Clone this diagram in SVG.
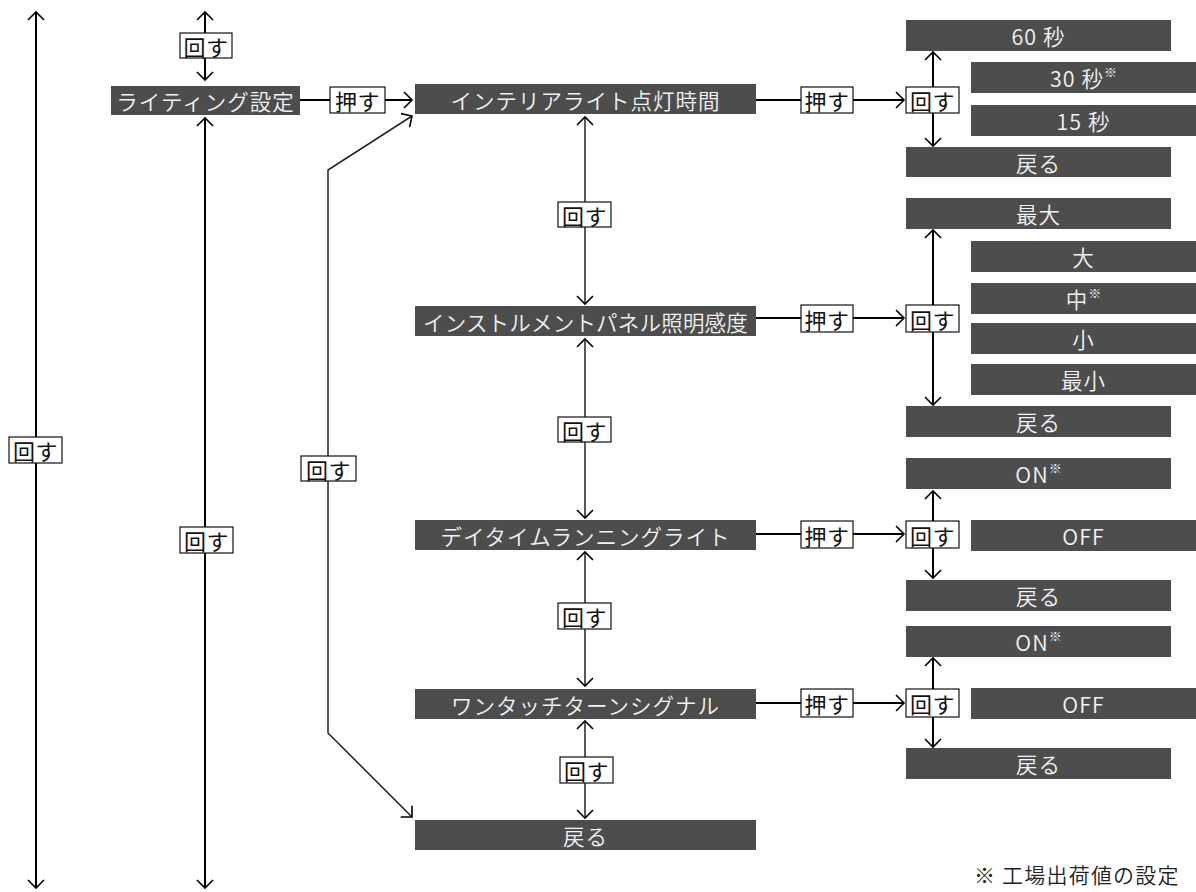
<svg xmlns="http://www.w3.org/2000/svg" width="1196" height="892" viewBox="0 0 1196 892">
<style>
.node rect{fill:#4d4d4d}
.node text{fill:#f2f2f2;font-family:"Noto Sans CJK JP","Noto Sans",sans-serif;font-size:21.5px;font-weight:350;letter-spacing:1px;text-anchor:middle;dominant-baseline:central}
.node text.tight{letter-spacing:0.2px}
.sup{font-size:13px;letter-spacing:0}
.lbl rect{fill:#fff;stroke:#111;stroke-width:1.2}
.lbl text{fill:#111;font-family:"Noto Sans CJK JP","Noto Sans",sans-serif;font-size:22px;font-weight:400;letter-spacing:0.5px;text-anchor:middle;dominant-baseline:central}
.c{stroke:#000;stroke-width:2;fill:none}
.c2{stroke:#222;stroke-width:1.5;fill:none}
.note{fill:#222;font-family:"Noto Sans CJK JP","Noto Sans",sans-serif;font-size:21px;font-weight:350;letter-spacing:1.2px}
</style>
<defs>
<marker id="ah" markerUnits="userSpaceOnUse" markerWidth="20" markerHeight="20" refX="0" refY="0" viewBox="-10 -10 20 20" orient="auto-start-reverse" overflow="visible">
<path d="M-8,-8 L0,0 L-8,8" fill="none" stroke="#000" stroke-width="1.6"/>
</marker>
</defs>

<g id="connectors">
<line class="c" x1="36" y1="12" x2="36" y2="888" marker-start="url(#ah)" marker-end="url(#ah)"/>
<line class="c" x1="205" y1="12" x2="205" y2="80" marker-start="url(#ah)" marker-end="url(#ah)"/>
<line class="c" x1="205" y1="118" x2="205" y2="888" marker-start="url(#ah)" marker-end="url(#ah)"/>
<line class="c" x1="300" y1="100" x2="330" y2="100"/>
<line class="c" x1="385" y1="100" x2="412" y2="100" marker-end="url(#ah)"/>
<polyline class="c2" points="412,116 328,170 328,733 412,817" marker-start="url(#ah)" marker-end="url(#ah)"/>
<line class="c2" x1="585" y1="117" x2="585" y2="304" marker-start="url(#ah)" marker-end="url(#ah)"/>
<line class="c2" x1="585" y1="339" x2="585" y2="518" marker-start="url(#ah)" marker-end="url(#ah)"/>
<line class="c2" x1="585" y1="552" x2="585" y2="686" marker-start="url(#ah)" marker-end="url(#ah)"/>
<line class="c2" x1="585" y1="721" x2="585" y2="818" marker-start="url(#ah)" marker-end="url(#ah)"/>
<line class="c" x1="756" y1="100" x2="801" y2="100"/>
<line class="c" x1="853" y1="100" x2="904" y2="100" marker-end="url(#ah)"/>
<line class="c" x1="933" y1="87" x2="933" y2="52" marker-end="url(#ah)"/>
<line class="c" x1="933" y1="113" x2="933" y2="146" marker-end="url(#ah)"/>
<line class="c" x1="756" y1="318" x2="801" y2="318"/>
<line class="c" x1="853" y1="318" x2="904" y2="318" marker-end="url(#ah)"/>
<line class="c" x1="933" y1="305" x2="933" y2="230" marker-end="url(#ah)"/>
<line class="c" x1="933" y1="332" x2="933" y2="405" marker-end="url(#ah)"/>
<line class="c" x1="756" y1="534" x2="801" y2="534"/>
<line class="c" x1="853" y1="534" x2="904" y2="534" marker-end="url(#ah)"/>
<line class="c" x1="933" y1="521" x2="933" y2="491" marker-end="url(#ah)"/>
<line class="c" x1="933" y1="548" x2="933" y2="578" marker-end="url(#ah)"/>
<line class="c" x1="756" y1="703" x2="801" y2="703"/>
<line class="c" x1="853" y1="703" x2="904" y2="703" marker-end="url(#ah)"/>
<line class="c" x1="933" y1="689" x2="933" y2="658" marker-end="url(#ah)"/>
<line class="c" x1="933" y1="717" x2="933" y2="747" marker-end="url(#ah)"/>
</g>

<g id="labels">
<g class="lbl"><rect x="9" y="437" width="53" height="26"/><text x="35.5" y="450">回す</text></g>
<g class="lbl"><rect x="180" y="33" width="52" height="25"/><text x="206" y="45.5">回す</text></g>
<g class="lbl"><rect x="180" y="527" width="53" height="26"/><text x="206.5" y="540">回す</text></g>
<g class="lbl"><rect x="330" y="87" width="55" height="26"/><text x="357.5" y="100">押す</text></g>
<g class="lbl"><rect x="301" y="456" width="55" height="25"/><text x="328.5" y="468.5">回す</text></g>
<g class="lbl"><rect x="558" y="202" width="53" height="25"/><text x="584.5" y="214.5">回す</text></g>
<g class="lbl"><rect x="558" y="417" width="53" height="25"/><text x="584.5" y="429.5">回す</text></g>
<g class="lbl"><rect x="558" y="603" width="53" height="26"/><text x="584.5" y="616">回す</text></g>
<g class="lbl"><rect x="560" y="757" width="53" height="26"/><text x="586.5" y="770">回す</text></g>
<g class="lbl"><rect x="801" y="87" width="52" height="26"/><text x="827" y="100">押す</text></g>
<g class="lbl"><rect x="906" y="87" width="53" height="26"/><text x="932.5" y="100">回す</text></g>
<g class="lbl"><rect x="801" y="305" width="52" height="27"/><text x="827" y="318.5">押す</text></g>
<g class="lbl"><rect x="906" y="305" width="53" height="27"/><text x="932.5" y="318.5">回す</text></g>
<g class="lbl"><rect x="801" y="521" width="52" height="27"/><text x="827" y="534.5">押す</text></g>
<g class="lbl"><rect x="906" y="521" width="53" height="27"/><text x="932.5" y="534.5">回す</text></g>
<g class="lbl"><rect x="801" y="689" width="52" height="28"/><text x="827" y="703">押す</text></g>
<g class="lbl"><rect x="906" y="689" width="53" height="28"/><text x="932.5" y="703">回す</text></g>
</g>

<g id="n-lighting" class="node"><rect x="111" y="86" width="189" height="29"/><text x="205.5" y="100.5">ライティング設定</text></g>
<g id="n-interior" class="node"><rect x="415" y="84" width="341" height="30"/><text x="585.5" y="99">インテリアライト点灯時間</text></g>
<g id="n-panel" class="node"><rect x="415" y="306" width="341" height="30"/><text class="tight" x="585.5" y="321">インストルメントパネル照明感度</text></g>
<g id="n-drl" class="node"><rect x="415" y="520" width="341" height="30"/><text x="585.5" y="535">デイタイムランニングライト</text></g>
<g id="n-turn" class="node"><rect x="415" y="689" width="341" height="30"/><text x="585.5" y="704">ワンタッチターンシグナル</text></g>
<g id="n-back" class="node"><rect x="415" y="820" width="341" height="30"/><text x="585.5" y="835">戻る</text></g>

<g id="o-60" class="node"><rect x="906" y="20" width="265" height="31"/><text x="1038.5" y="35.5">60 秒</text></g>
<g id="o-30" class="node"><rect x="971" y="62" width="225" height="31"/><text x="1083.5" y="77.5">30 秒<tspan class="sup" dy="-7">※</tspan></text></g>
<g id="o-15" class="node"><rect x="971" y="105" width="225" height="31"/><text x="1083.5" y="120.5">15 秒</text></g>
<g id="o-back1" class="node"><rect x="906" y="147" width="265" height="30"/><text x="1038.5" y="162">戻る</text></g>

<g id="o-max" class="node"><rect x="906" y="198" width="265" height="31"/><text x="1038.5" y="213.5">最大</text></g>
<g id="o-large" class="node"><rect x="971" y="241" width="225" height="31"/><text x="1083.5" y="256.5">大</text></g>
<g id="o-mid" class="node"><rect x="971" y="283" width="225" height="31"/><text x="1083.5" y="298.5">中<tspan class="sup" dy="-7">※</tspan></text></g>
<g id="o-small" class="node"><rect x="971" y="323" width="225" height="31"/><text x="1083.5" y="338.5">小</text></g>
<g id="o-min" class="node"><rect x="971" y="364" width="225" height="31"/><text x="1083.5" y="379.5">最小</text></g>
<g id="o-back2" class="node"><rect x="906" y="406" width="265" height="31"/><text x="1038.5" y="421.5">戻る</text></g>

<g id="o-on1" class="node"><rect x="906" y="458" width="265" height="31"/><text x="1038.5" y="473.5">ON<tspan class="sup" dy="-7">※</tspan></text></g>
<g id="o-off1" class="node"><rect x="971" y="520" width="225" height="31"/><text x="1083.5" y="535.5">OFF</text></g>
<g id="o-back3" class="node"><rect x="906" y="580" width="265" height="31"/><text x="1038.5" y="595.5">戻る</text></g>

<g id="o-on2" class="node"><rect x="906" y="626" width="265" height="31"/><text x="1038.5" y="641.5">ON<tspan class="sup" dy="-7">※</tspan></text></g>
<g id="o-off2" class="node"><rect x="971" y="688" width="225" height="31"/><text x="1083.5" y="703.5">OFF</text></g>
<g id="o-back4" class="node"><rect x="906" y="748" width="265" height="31"/><text x="1038.5" y="763.5">戻る</text></g>

<text class="note" x="974" y="883">※ 工場出荷値の設定</text>
</svg>
